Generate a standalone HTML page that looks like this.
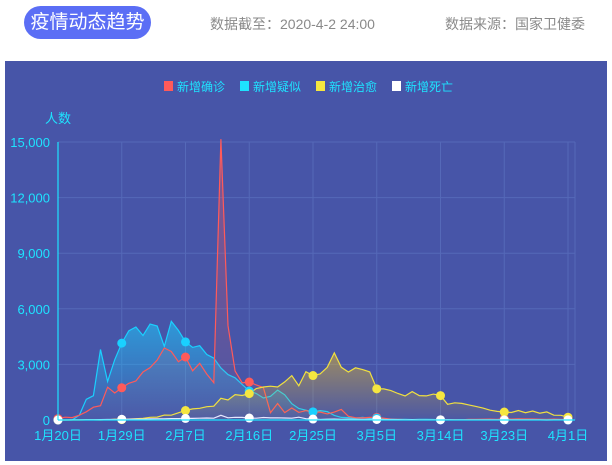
<!DOCTYPE html>
<html><head><meta charset="utf-8"><style>
html,body{margin:0;padding:0;background:#fff;width:612px;height:465px;overflow:hidden;font-family:"Liberation Sans","Noto Sans CJK SC",sans-serif}
.pill{position:absolute;left:24px;top:6px;width:127px;height:33px;border-radius:17px;background:#5b6ef5;color:#fff;font-size:19px;line-height:33px;text-align:center}
.t{position:absolute;top:14px;color:#8a8a8a;font-size:14px}
.panel{position:absolute;left:5px;top:61px;width:602px;height:400px;background:#4755a8}
svg{position:absolute;left:0;top:0}
</style></head><body>
<div class="pill">疫情动态趋势</div>
<div class="t" style="left:210px">数据截至：2020-4-2 24:00</div>
<div class="t" style="left:445px">数据来源：国家卫健委</div>
<div class="panel"></div>
<svg id="s" width="612" height="465" font-family="Liberation Sans, Noto Sans CJK SC, sans-serif"></svg>
<script>
var R=[77,149,131,259,444,688,769,1771,1459,1737,1982,2102,2590,2829,3235,3887,3694,3143,3399,2656,3062,2478,2015,15152,5090,2641,2009,2048,1886,1749,394,889,397,648,409,508,406,433,327,427,573,202,125,119,139,143,99,44,40,19,24,15,8,11,20,16,21,13,34,39,41,46,39,78,47,67,55,54,45,31,48,36,35];
var C=[0,0,0,257,1118,1309,3806,2077,3248,4148,4812,5019,4562,5173,5072,3971,5328,4833,4214,3916,4008,3536,3342,2807,2450,2277,1918,1563,1432,1185,1277,1614,1361,882,620,530,439,508,452,248,141,132,102,143,99,102,46,45,36,31,21,33,33,28,12,15,12,10,9,10,8,7,9,8,6,5,7,6,5,4,5,4,3];
var Y=[0,0,0,0,3,8,2,9,43,21,47,72,85,147,157,262,261,387,510,600,632,716,744,1171,1081,1373,1323,1425,1701,1779,1824,1779,2055,2393,1846,2604,2400,2482,2837,3622,2844,2589,2816,2720,2593,1681,1678,1586,1431,1297,1535,1318,1300,1400,1318,849,930,894,816,733,640,527,463,430,402,512,393,488,366,438,260,252,150];
var D=[0,0,8,8,16,15,24,26,26,38,43,46,45,57,64,65,73,73,86,89,97,108,97,254,121,143,142,105,98,136,114,118,109,97,150,71,52,29,44,47,35,42,31,38,31,30,28,27,22,17,22,11,7,13,10,14,13,11,8,3,7,6,9,7,4,6,5,5,4,1,7,6,4];
function X(i){return 58+i*(510/72)}function V(v){return 420-v*278/15000}
var h='<defs>';
[['gc','#1ad0ff',0.55],['gr','#ff5a5a',0.35],['gy','#f0c020',0.5]].forEach(function(g){h+='<linearGradient id="'+g[0]+'" x1="0" y1="0" x2="0" y2="1"><stop offset="0" stop-color="'+g[1]+'" stop-opacity="'+g[2]+'"/><stop offset="1" stop-color="'+g[1]+'" stop-opacity="0.03"/></linearGradient>'});
h+='</defs>';
for(var k=0;k<=5;k++){var y=V(k*3000);h+='<line x1="58" x2="575" y1="'+y+'" y2="'+y+'" stroke="#5569b8" stroke-width="1"/>';h+='<text x="50" y="'+(y+5)+'" fill="#1ee3ff" font-size="13" text-anchor="end">'+(k*3000).toLocaleString('en-US')+'</text>'}
var lab=['1月20日','1月29日','2月7日','2月16日','2月25日','3月5日','3月14日','3月23日','4月1日'];
for(var k=0;k<9;k++){var x=X(k*9);h+='<line x1="'+x+'" x2="'+x+'" y1="142" y2="420" stroke="#5569b8"/>';h+='<text x="'+x+'" y="440" fill="#1ee3ff" font-size="13" text-anchor="middle">'+lab[k]+'</text>'}
h+='<line x1="575" x2="575" y1="142" y2="420" stroke="#5569b8"/>';
function pts(a){return a.map(function(v,i){return X(i).toFixed(1)+','+V(v).toFixed(1)}).join(' ')}
function ser(a,col,g){var p=pts(a);if(g)h+='<polygon points="'+X(0)+',420 '+p+' '+X(72)+',420" fill="url(#'+g+')"/>';h+='<polyline points="'+p+'" fill="none" stroke="'+col+'" stroke-width="1.2"/>'}
ser(C,'#1ad0ff','gc');ser(R,'#ff5a5a','gr');ser(Y,'#f0e040','gy');ser(D,'#e8e8ff',null);
[[R,'#ff5a5a'],[C,'#1ad0ff'],[Y,'#f5e640'],[D,'#ffffff']].forEach(function(s){for(var k=0;k<9;k++){h+='<circle cx="'+X(k*9)+'" cy="'+V(s[0][k*9])+'" r="4.5" fill="'+s[1]+'"/>'}});
h+='<line x1="58" x2="58" y1="142" y2="420" stroke="#1ee3ff" stroke-width="1.2"/><line x1="58" x2="575" y1="420" y2="420" stroke="#1ee3ff" stroke-width="1.2"/>';
h+='<text x="45" y="123" fill="#1ee3ff" font-size="13">人数</text>';
var lg=[['#ff5a5a','新增确诊',164],['#1ee3ff','新增疑似',240],['#f5e640','新增治愈',316],['#ffffff','新增死亡',392]];
lg.forEach(function(l){h+='<rect x="'+l[2]+'" y="81" width="9" height="10" fill="'+l[0]+'"/><text x="'+(l[2]+13)+'" y="91" fill="#1ee3ff" font-size="12">'+l[1]+'</text>'});
document.getElementById('s').innerHTML=h;
</script>
</body></html>
